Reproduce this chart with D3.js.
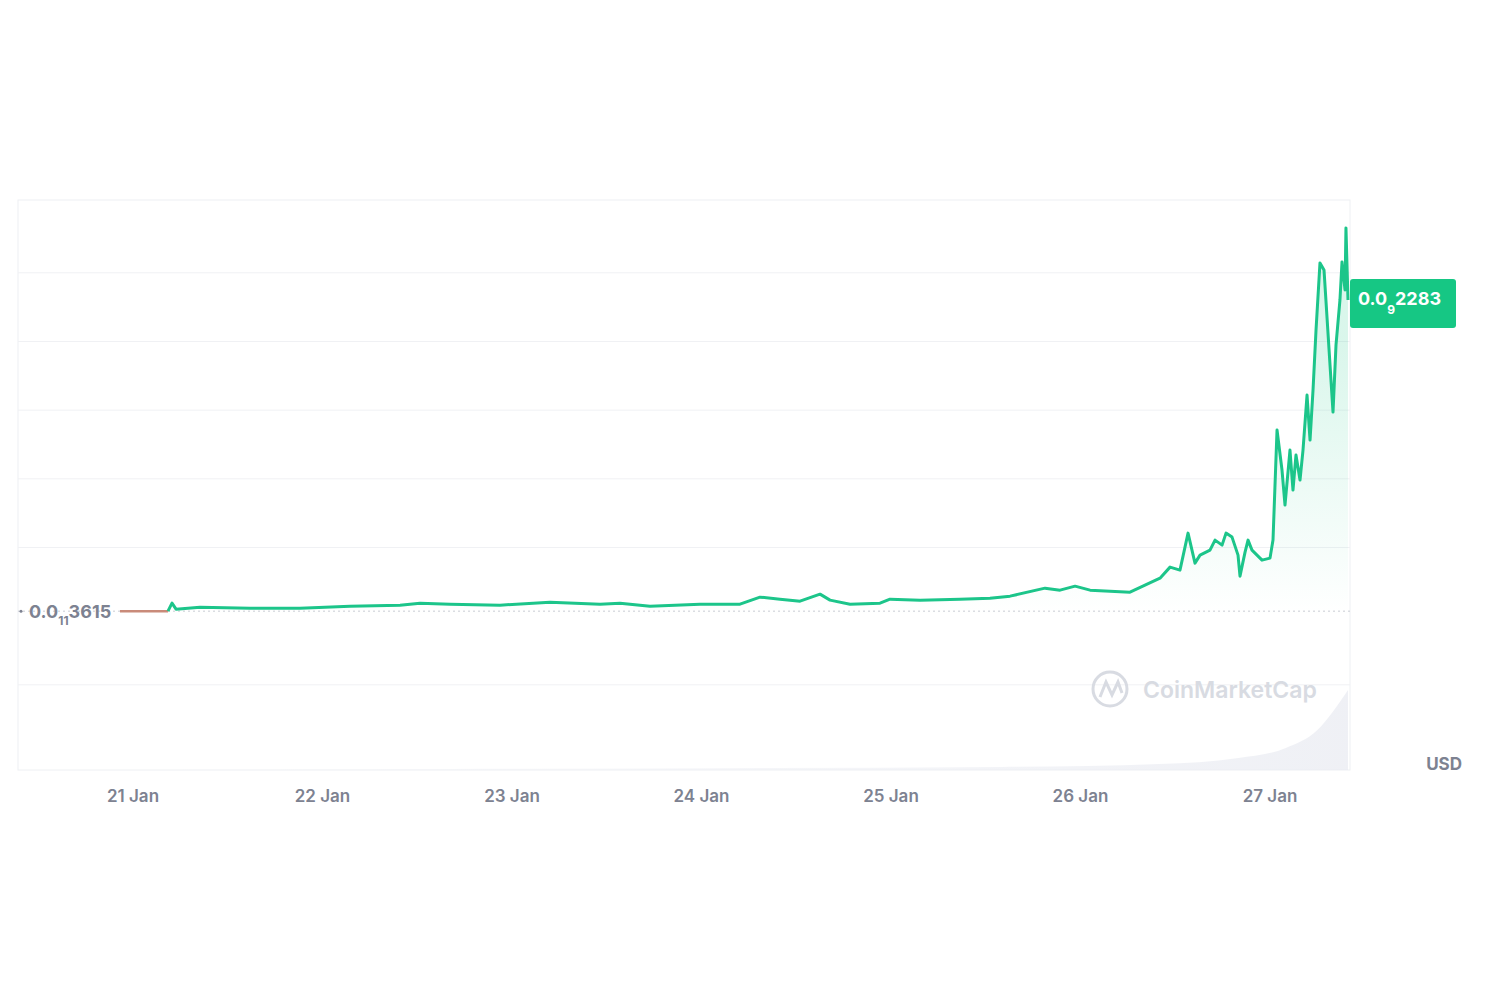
<!DOCTYPE html>
<html><head><meta charset="utf-8">
<script src="https://cdn.jsdelivr.net/npm/d3@7"></script>
<style>body{margin:0;background:#fff;font-family:Inter,"Noto Sans",sans-serif}</style>
</head><body><svg id="c" width="1500" height="1000"></svg>
<script>
// hours since 21 Jan 00:00, price in units of 1e-12 USD
const hours=[-1.65,4.43,4.94,5.45,8.49,14.82,21.15,27.48,33.82,36.35,40.15,46.48,52.81,59.15,61.68,65.48,71.81,76.88,79.41,81.94,84.48,87.01,88.28,90.81,94.61,95.88,99.68,104.74,108.54,111.08,115.51,117.41,119.31,121.21,126.27,128.17,130.07,131.34,132.60,133.62,134.50,135.14,136.40,137.04,137.93,138.43,139.19,139.95,140.20,140.84,141.22,141.72,142.99,144.00,144.38,144.89,145.52,145.90,146.53,146.91,147.29,147.80,148.18,148.69,149.07,149.45,149.83,150.33,150.84,151.60,151.98,152.36,152.86,153.12,153.50,153.62,153.88];
const price=[3.64,3.64,9.47,5.10,6.56,5.83,5.83,7.29,8.01,9.47,8.74,8.01,10.2,8.74,9.47,7.29,8.74,8.74,13.84,12.39,10.93,16.03,11.66,8.74,9.47,12.39,11.66,12.39,13.11,14.57,20.4,18.94,21.86,18.94,17.49,22.59,27.69,35.7,33.52,60.47,38.62,44.44,48.09,55.37,51.73,60.47,57.56,44.44,29.14,46.6,55.37,48.09,40.8,42.26,55.37,135.5,106.4,80.9,120.9,91.8,117.3,99.1,120.9,161.0,128.2,164.7,208.4,257.2,252.1,182.9,148.6,197.5,230.2,257.9,237.5,282.7,230.2];
// volume (relative) sampled across the range
const volHours=[-1.65,40,80,110,130,140,146,150,153.88];
const volume=[0,1,2,3,6,12,22,40,80];
const dayLabels=["21 Jan","22 Jan","23 Jan","24 Jan","25 Jan","26 Jan","27 Jan"];
const gridVals=[-50,0,50,100,150,200,250];
const startLabel=["0.0","11","3615"], lastLabel=["0.0","9","2283"];

const svg=d3.select("#c");
const L=18,R=1350,T=200,B=770;
const x=d3.scaleLinear().domain([(18-133)/189.5*24,(1350-133)/189.5*24]).range([L,R]);
const y=d3.scaleLinear().domain([-112,303]).range([B,T]);
svg.append("rect").attr("x",L).attr("y",T).attr("width",R-L).attr("height",B-T).attr("fill","none").attr("stroke","#eef0f3");
svg.selectAll(".g").data(gridVals.filter(v=>v!==0)).join("line").attr("x1",L).attr("x2",R).attr("y1",d=>y(d)).attr("y2",d=>y(d)).attr("stroke","#f0f1f4");
const defs=svg.append("defs");
const vg=defs.append("linearGradient").attr("id","vg").attr("x1",0).attr("y1",0).attr("x2",1).attr("y2",0);
vg.append("stop").attr("offset","0%").attr("stop-color","#f3f4f8").attr("stop-opacity",0.6);
vg.append("stop").attr("offset","100%").attr("stop-color","#e8eaf1").attr("stop-opacity",1);
const vy=d3.scaleLinear().domain([0,80]).range([B,B-80]);
svg.append("path").datum(volHours.map((h,i)=>[h,volume[i]])).attr("fill","url(#vg)").attr("opacity",0.7)
 .attr("d",d3.area().x(d=>x(d[0])).y0(B).y1(d=>vy(d[1])).curve(d3.curveMonotoneX));
const wm=svg.append("g").attr("transform","translate(1110,689)");
wm.append("circle").attr("r",17).attr("fill","none").attr("stroke","#d8dbe2").attr("stroke-width",3);
wm.append("path").attr("d","M-10,8 L-4,-7 L2,6 L8,-7 L12,4").attr("fill","none").attr("stroke","#d8dbe2").attr("stroke-width",3);
svg.append("text").attr("x",1143).attr("y",698).attr("font-size",23).attr("font-weight",600).attr("fill","#d8dbe2").text("CoinMarketCap");
const gr=defs.append("linearGradient").attr("id","gf").attr("gradientUnits","userSpaceOnUse").attr("x1",0).attr("y1",y(200)).attr("x2",0).attr("y2",y(0));
gr.append("stop").attr("offset","0%").attr("stop-color","#16c784").attr("stop-opacity",0.16);
gr.append("stop").attr("offset","100%").attr("stop-color","#16c784").attr("stop-opacity",0);
const data=hours.map((h,i)=>[h,price[i]]);
svg.append("path").datum(data).attr("fill","url(#gf)")
 .attr("d",d3.area().x(d=>x(d[0])).y0(y(0)).y1(d=>y(d[1])));
svg.append("line").attr("x1",L).attr("x2",R).attr("y1",y(price[0])).attr("y2",y(price[0])).attr("stroke","#c9ccd3").attr("stroke-dasharray","2,3");
svg.append("path").datum(data.slice(0,2)).attr("fill","none").attr("stroke","#c98b7a").attr("stroke-width",2.5).attr("d",d3.line().x(d=>x(d[0])).y(d=>y(d[1])));
svg.append("path").datum(data.slice(1)).attr("fill","none").attr("stroke","#1cc58a").attr("stroke-width",3).attr("stroke-linejoin","round")
 .attr("d",d3.line().x(d=>x(d[0])).y(d=>y(d[1])));
svg.selectAll(".d").data(dayLabels).join("text").attr("x",(d,i)=>x(i*24)).attr("y",802).attr("text-anchor","middle")
 .attr("font-size",17).attr("font-weight",600).attr("fill","#7d8291").text(d=>d);
svg.append("text").attr("x",1462).attr("y",770).attr("text-anchor","end").attr("font-size",17).attr("font-weight",700).attr("fill","#7d8291").text("USD");
svg.append("circle").attr("cx",21).attr("cy",y(price[0])).attr("r",1.5).attr("fill","#7d8291");
const st=svg.append("text").attr("x",29).attr("y",y(price[0])+7).attr("font-size",18).attr("font-weight",700).attr("fill","#7d8291");
st.append("tspan").text(startLabel[0]);
st.append("tspan").attr("font-size",12).attr("dy",7).text(startLabel[1]);
st.append("tspan").attr("dy",-7).text(startLabel[2]);
svg.append("rect").attr("x",1350).attr("y",279).attr("width",106).attr("height",49).attr("rx",3).attr("fill","#16c784");
const lt=svg.append("text").attr("x",1358).attr("y",305).attr("font-size",18).attr("font-weight",700).attr("fill","#fff");
lt.append("tspan").text(lastLabel[0]);
lt.append("tspan").attr("font-size",12).attr("dy",9).text(lastLabel[1]);
lt.append("tspan").attr("dy",-9).text(lastLabel[2]);
</script></body></html>
